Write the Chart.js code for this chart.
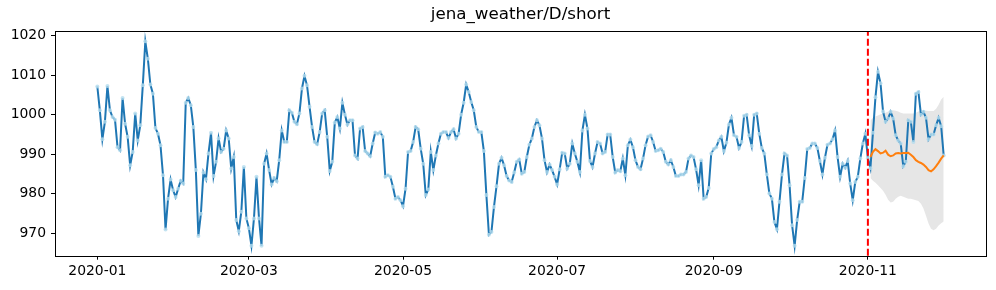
<!DOCTYPE html>
<html>
<head>
<meta charset="utf-8">
<script src="https://cdn.jsdelivr.net/npm/chart.js@4.4.1/dist/chart.umd.min.js"></script>
<style>
  body { margin: 0; background: #fff; }
  canvas { display: block; }
</style>
</head>
<body>
<canvas id="chart" width="996" height="290"></canvas>
<script>
// daily pressure, day 0 = 2020-01-01
const observed = [
  1007.1, 1001.1, 993.8, 998.2, 1007.2, 1001.1, 999.4, 998.7, 991.8, 991.0,
  1004.2, 997.7, 994.4, 987.2, 990.6, 1000.3, 993.5, 997.3, 1007.4, 1018.5,
  1014.1, 1007.6, 1005.3, 996.6, 995.2, 992.3, 984.7, 971.0, 978.8, 983.6,
  980.9, 979.2, 981.3, 983.3, 982.6, 1003.0, 1004.2, 1002.4, 996.9, 986.0,
  969.4, 975.0, 985.4, 983.7, 990.2, 995.4, 984.5, 988.1, 994.0, 990.6,
  991.4, 996.0, 994.0, 986.4, 989.3, 973.4, 970.6, 975.5, 986.8, 973.8,
  971.3, 966.9, 973.8, 984.3, 973.8, 966.9, 987.6, 990.2, 986.0, 982.4,
  984.0, 983.2, 988.5, 996.0, 993.1, 993.1, 1001.1, 1000.5, 998.2, 997.6,
  1000.3, 1006.6, 1009.8, 1007.4, 1002.0, 996.9, 993.1, 992.5, 995.6, 1000.3,
  1001.1, 994.4, 985.8, 988.1, 998.0, 999.4, 996.5, 1003.0, 1000.0, 997.5,
  998.6, 998.6, 989.7, 988.9, 996.5, 996.9, 990.8, 990.2, 989.5, 992.7,
  995.5, 995.2, 995.6, 994.4, 984.3, 984.7, 984.3, 981.8, 978.8, 979.2,
  978.4, 976.9, 981.3, 990.6, 990.8, 993.1, 996.9, 996.3, 991.4, 987.6,
  979.7, 981.1, 990.6, 986.0, 989.7, 992.7, 995.2, 995.6, 995.6, 994.1,
  995.6, 996.3, 994.0, 995.2, 1000.0, 1003.0, 1007.6, 1005.7, 1003.2, 1001.1,
  996.9, 995.6, 995.6, 990.8, 979.7, 969.7, 970.4, 976.7, 981.9, 987.6,
  989.1, 987.2, 984.5, 983.4, 983.0, 985.4, 988.1, 988.7, 985.1, 985.5,
  989.3, 992.4, 994.0, 996.9, 998.6, 997.3, 994.0, 988.5, 985.5, 987.4,
  986.0, 984.3, 982.4, 986.2, 990.4, 990.2, 986.4, 987.6, 992.7, 990.2,
  988.1, 985.5, 996.0, 1000.0, 996.5, 988.3, 986.8, 990.2, 993.1, 992.7,
  990.2, 990.6, 995.0, 995.0, 989.3, 985.4, 986.0, 985.7, 988.9, 984.7,
  992.3, 993.7, 991.8, 988.5, 986.8, 986.2, 988.9, 992.3, 994.5, 994.8,
  993.1, 990.8, 991.0, 991.4, 990.6, 988.1, 987.4, 988.5, 986.8, 984.5,
  984.5, 984.9, 984.9, 985.5, 988.9, 989.7, 989.3, 986.2, 982.2, 988.5,
  978.8, 979.2, 981.5, 990.2, 991.3, 991.8, 993.5, 994.4, 990.8, 992.9,
  997.5, 999.2, 994.8, 994.4, 991.6, 993.1, 999.7, 1000.0, 994.8, 992.1,
  1000.0, 1000.3, 995.2, 991.6, 990.2, 984.9, 980.1, 978.8, 972.9, 971.1,
  978.0, 984.9, 990.2, 989.7, 982.2, 972.1, 966.9, 973.4, 978.0, 978.0,
  984.0, 991.3, 991.6, 992.7, 992.7, 991.6, 988.3, 984.9, 989.1, 992.4,
  992.7, 993.8, 996.0, 989.3, 984.3, 987.6, 986.6, 988.3, 982.6, 978.4,
  983.0, 984.3, 988.9, 992.7, 995.2, 989.0, 986.5, 995.4, 1004.4, 1010.8,
  1007.9, 1000.8, 998.2, 999.0, 1000.7, 999.0, 994.8, 993.5, 992.7, 987.0,
  988.1, 998.6, 998.2, 993.1, 1005.3, 1005.7, 1000.0, 1000.7, 999.2, 993.8,
  995.0, 995.0, 997.3, 999.2, 997.1, 989.7
];

// forecast starts the day after the split
const splitDay = 305;
const forecastStart = 306;
const forecast = [
  989.3, 990.6, 991.3, 990.8, 990.2, 990.4, 990.9, 989.9, 989.5, 989.7,
  990.2, 990.3, 990.2, 990.3, 990.3, 990.4, 989.9, 989.3, 988.5, 988.1,
  987.8, 987.4, 986.8, 986.0, 985.7, 986.2, 987.0, 987.9, 988.9, 989.7
];
const upper = [
  998.5, 999.2, 999.5, 999.8, 1000.1, 1000.3, 1000.5, 1000.8, 1001.0, 1001.1,
  1001.0, 1000.8, 1000.5, 1000.3, 1000.3, 1000.3, 1000.3, 1000.3, 1000.5, 1000.8,
  1001.0, 1001.1, 1001.0, 1000.9, 1000.9, 1000.9, 1001.5, 1002.5, 1003.8, 1004.5
];
const lower = [
  984.0, 983.3, 982.8, 982.2, 981.5, 980.8, 979.8, 978.5, 977.8, 978.0,
  978.8, 979.3, 979.5, 979.3, 979.0, 978.8, 978.8, 978.6, 978.4, 978.2,
  977.5, 976.3, 974.5, 972.5, 971.2, 970.8, 971.2, 972.0, 972.6, 973.0
];

const tickDays = [0, 60, 121, 182, 244, 305];
const tickLabels = ['2020-01', '2020-03', '2020-05', '2020-07', '2020-09', '2020-11'];
const yTicks = [970, 980, 990, 1000, 1010, 1020];

const toPoints = (arr, start) => arr.map((v, i) => ({ x: start + i, y: v }));

const font = { family: 'DejaVu Sans', size: 13.9 };

const frame = {
    id: 'frame',
    afterDatasetsDraw(chart) {
        const { ctx, chartArea: a, scales } = chart;
        const xs = scales.x.getPixelForValue(splitDay);
        ctx.save();
        ctx.strokeStyle = 'red';
        ctx.lineWidth = 2;
        ctx.setLineDash([7, 3]);
        ctx.beginPath();
        ctx.moveTo(xs, a.bottom);
        ctx.lineTo(xs, a.top);
        ctx.stroke();
        ctx.setLineDash([]);
        ctx.strokeStyle = '#000';
        ctx.lineWidth = 1;
        ctx.strokeRect(Math.round(a.left) + 0.5, Math.round(a.top) + 0.5,
            Math.round(a.right - a.left), Math.round(a.bottom - a.top));
        ctx.restore();
    }
};

new Chart(document.getElementById('chart'), {
    type: 'line',
    data: {
        datasets: [
            {
                data: toPoints(forecast, forecastStart),
                borderColor: '#ff7f0e',
                borderWidth: 2,
                pointRadius: 0,
                order: 1
            },
            {
                data: toPoints(observed, 0),
                borderColor: '#1f77b4',
                borderWidth: 2,
                pointRadius: 2,
                pointBorderWidth: 0,
                pointBackgroundColor: 'rgba(180,220,238,0.8)',
                order: 2
            },
            {
                data: toPoints(upper, forecastStart),
                borderWidth: 0,
                pointRadius: 0,
                backgroundColor: 'rgba(128,128,128,0.2)',
                fill: '+1',
                order: 3
            },
            {
                data: toPoints(lower, forecastStart),
                borderWidth: 0,
                pointRadius: 0,
                fill: false,
                order: 4
            }
        ]
    },
    options: {
        responsive: false,
        animation: false,
        devicePixelRatio: 1,
        layout: { padding: { left: 0, right: 10, top: 0, bottom: 0 } },
        plugins: {
            legend: { display: false },
            tooltip: { enabled: false },
            title: {
                display: true,
                text: 'jena_weather/D/short',
                color: '#000',
                fullSize: false,
                font: { family: 'DejaVu Sans', size: 16.7, weight: 'normal' },
                padding: { top: 5, bottom: 6 }
            }
        },
        scales: {
            x: {
                type: 'linear',
                min: -16.75,
                max: 351.75,
                afterBuildTicks: (scale) => { scale.ticks = tickDays.map(v => ({ value: v })); },
                afterFit: (scale) => { scale.height = 34.3; },
                border: { display: false },
                grid: { drawOnChartArea: false, drawTicks: true, tickLength: 4, color: '#000' },
                ticks: {
                    color: '#000',
                    font: font,
                    padding: 3,
                    maxRotation: 0,
                    autoSkip: false,
                    callback: (v) => tickLabels[tickDays.indexOf(v)]
                }
            },
            y: {
                min: 964.4,
                max: 1021.1,
                afterBuildTicks: (scale) => { scale.ticks = yTicks.map(v => ({ value: v })); },
                afterFit: (scale) => { scale.width = 55; },
                border: { display: false },
                grid: { drawOnChartArea: false, drawTicks: true, tickLength: 4, color: '#000' },
                ticks: { color: '#000', font: font, padding: 5, callback: (v) => String(v) }
            }
        }
    },
    plugins: [frame]
});
</script>
</body>
</html>
